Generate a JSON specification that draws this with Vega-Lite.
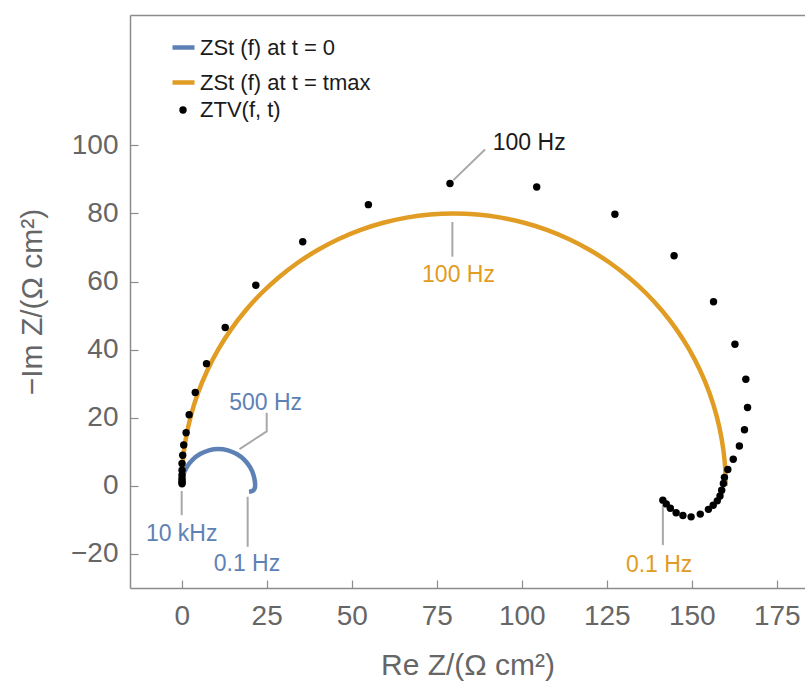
{
  "$schema": "https://vega.github.io/schema/vega-lite/v6.json",
  "width": 675,
  "height": 573,
  "autosize": {"type": "none"},
  "padding": {"left": 130, "top": 15, "right": 0, "bottom": 96},
  "background": "white",
  "config": {
    "view": {"stroke": null},
    "font": "Liberation Sans",
    "axis": {
      "grid": false,
      "domainColor": "#8c8c8c",
      "domainWidth": 1.5,
      "tickColor": "#8c8c8c",
      "tickWidth": 1.2,
      "tickSize": -8,
      "labelFontSize": 28,
      "labelColor": "#666666",
      "labelFont": "Liberation Sans",
      "titleFont": "Liberation Sans",
      "titleFontSize": 30,
      "titleColor": "#666666",
      "titleFontWeight": "normal"
    }
  },
  "datasets": {
    "zst": [
      {"s": "ZSt (f) at t = 0", "i": 1, "re": 0.1, "im": 0.1},
      {"s": "ZSt (f) at t = 0", "i": 2, "re": 0.37, "im": 2.8},
      {"s": "ZSt (f) at t = 0", "i": 3, "re": 1.45, "im": 5.4},
      {"s": "ZSt (f) at t = 0", "i": 4, "re": 3.16, "im": 7.64},
      {"s": "ZSt (f) at t = 0", "i": 5, "re": 5.4, "im": 9.35},
      {"s": "ZSt (f) at t = 0", "i": 6, "re": 8.0, "im": 10.43},
      {"s": "ZSt (f) at t = 0", "i": 7, "re": 10.8, "im": 10.8},
      {"s": "ZSt (f) at t = 0", "i": 8, "re": 13.6, "im": 10.43},
      {"s": "ZSt (f) at t = 0", "i": 9, "re": 16.2, "im": 9.35},
      {"s": "ZSt (f) at t = 0", "i": 10, "re": 18.44, "im": 7.64},
      {"s": "ZSt (f) at t = 0", "i": 11, "re": 20.15, "im": 5.4},
      {"s": "ZSt (f) at t = 0", "i": 12, "re": 21.23, "im": 2.8},
      {"s": "ZSt (f) at t = 0", "i": 13, "re": 21.6, "im": 0},
      {"s": "ZSt (f) at t = 0", "i": 14, "re": 21.4, "im": -0.9},
      {"s": "ZSt (f) at t = 0", "i": 15, "re": 20.8, "im": -1.5},
      {"s": "ZSt (f) at t = 0", "i": 16, "re": 19.8, "im": -1.7},
      {"s": "ZSt (f) at t = tmax", "i": 1, "re": 0, "im": 0},
      {"s": "ZSt (f) at t = tmax", "i": 2, "re": 0.3, "im": 6.97},
      {"s": "ZSt (f) at t = tmax", "i": 3, "re": 1.22, "im": 13.89},
      {"s": "ZSt (f) at t = tmax", "i": 4, "re": 2.73, "im": 20.71},
      {"s": "ZSt (f) at t = tmax", "i": 5, "re": 4.82, "im": 27.36},
      {"s": "ZSt (f) at t = tmax", "i": 6, "re": 7.5, "im": 33.81},
      {"s": "ZSt (f) at t = tmax", "i": 7, "re": 10.72, "im": 40.0},
      {"s": "ZSt (f) at t = tmax", "i": 8, "re": 14.47, "im": 45.89},
      {"s": "ZSt (f) at t = tmax", "i": 9, "re": 18.72, "im": 51.42},
      {"s": "ZSt (f) at t = tmax", "i": 10, "re": 23.43, "im": 56.57},
      {"s": "ZSt (f) at t = tmax", "i": 11, "re": 28.58, "im": 61.28},
      {"s": "ZSt (f) at t = tmax", "i": 12, "re": 34.11, "im": 65.53},
      {"s": "ZSt (f) at t = tmax", "i": 13, "re": 40.0, "im": 69.28},
      {"s": "ZSt (f) at t = tmax", "i": 14, "re": 46.19, "im": 72.5},
      {"s": "ZSt (f) at t = tmax", "i": 15, "re": 52.64, "im": 75.18},
      {"s": "ZSt (f) at t = tmax", "i": 16, "re": 59.29, "im": 77.27},
      {"s": "ZSt (f) at t = tmax", "i": 17, "re": 66.11, "im": 78.78},
      {"s": "ZSt (f) at t = tmax", "i": 18, "re": 73.03, "im": 79.7},
      {"s": "ZSt (f) at t = tmax", "i": 19, "re": 80.0, "im": 80.0},
      {"s": "ZSt (f) at t = tmax", "i": 20, "re": 86.97, "im": 79.7},
      {"s": "ZSt (f) at t = tmax", "i": 21, "re": 93.89, "im": 78.78},
      {"s": "ZSt (f) at t = tmax", "i": 22, "re": 100.71, "im": 77.27},
      {"s": "ZSt (f) at t = tmax", "i": 23, "re": 107.36, "im": 75.18},
      {"s": "ZSt (f) at t = tmax", "i": 24, "re": 113.81, "im": 72.5},
      {"s": "ZSt (f) at t = tmax", "i": 25, "re": 120.0, "im": 69.28},
      {"s": "ZSt (f) at t = tmax", "i": 26, "re": 125.89, "im": 65.53},
      {"s": "ZSt (f) at t = tmax", "i": 27, "re": 131.42, "im": 61.28},
      {"s": "ZSt (f) at t = tmax", "i": 28, "re": 136.57, "im": 56.57},
      {"s": "ZSt (f) at t = tmax", "i": 29, "re": 141.28, "im": 51.42},
      {"s": "ZSt (f) at t = tmax", "i": 30, "re": 145.53, "im": 45.89},
      {"s": "ZSt (f) at t = tmax", "i": 31, "re": 149.28, "im": 40.0},
      {"s": "ZSt (f) at t = tmax", "i": 32, "re": 152.5, "im": 33.81},
      {"s": "ZSt (f) at t = tmax", "i": 33, "re": 155.18, "im": 27.36},
      {"s": "ZSt (f) at t = tmax", "i": 34, "re": 157.27, "im": 20.71},
      {"s": "ZSt (f) at t = tmax", "i": 35, "re": 158.78, "im": 13.89},
      {"s": "ZSt (f) at t = tmax", "i": 36, "re": 159.7, "im": 6.97},
      {"s": "ZSt (f) at t = tmax", "i": 37, "re": 160.0, "im": 0}
    ],
    "ztv": [
      {"s": "ZTV(f, t)", "re": 0.1, "im": 0.6},
      {"s": "ZTV(f, t)", "re": 0.1, "im": 1.0},
      {"s": "ZTV(f, t)", "re": 0.1, "im": 1.5},
      {"s": "ZTV(f, t)", "re": 0.1, "im": 2.2},
      {"s": "ZTV(f, t)", "re": 0.1, "im": 3.2},
      {"s": "ZTV(f, t)", "re": 0.1, "im": 4.6},
      {"s": "ZTV(f, t)", "re": 0.1, "im": 6.6},
      {"s": "ZTV(f, t)", "re": 0.3, "im": 9.0},
      {"s": "ZTV(f, t)", "re": 0.6, "im": 12.0},
      {"s": "ZTV(f, t)", "re": 1.3, "im": 15.6},
      {"s": "ZTV(f, t)", "re": 2.2, "im": 20.9},
      {"s": "ZTV(f, t)", "re": 4.0, "im": 27.4},
      {"s": "ZTV(f, t)", "re": 7.3, "im": 35.9},
      {"s": "ZTV(f, t)", "re": 12.8, "im": 46.5},
      {"s": "ZTV(f, t)", "re": 21.8, "im": 58.9},
      {"s": "ZTV(f, t)", "re": 35.6, "im": 71.7},
      {"s": "ZTV(f, t)", "re": 54.9, "im": 82.6},
      {"s": "ZTV(f, t)", "re": 78.9, "im": 88.8},
      {"s": "ZTV(f, t)", "re": 104.4, "im": 87.8},
      {"s": "ZTV(f, t)", "re": 127.4, "im": 79.8},
      {"s": "ZTV(f, t)", "re": 144.8, "im": 67.6},
      {"s": "ZTV(f, t)", "re": 156.4, "im": 54.1},
      {"s": "ZTV(f, t)", "re": 162.7, "im": 41.6},
      {"s": "ZTV(f, t)", "re": 165.9, "im": 31.3},
      {"s": "ZTV(f, t)", "re": 166.4, "im": 23.0},
      {"s": "ZTV(f, t)", "re": 165.5, "im": 16.5},
      {"s": "ZTV(f, t)", "re": 164.0, "im": 11.7},
      {"s": "ZTV(f, t)", "re": 162.2, "im": 7.8},
      {"s": "ZTV(f, t)", "re": 160.6, "im": 4.8},
      {"s": "ZTV(f, t)", "re": 159.6, "im": 2.5},
      {"s": "ZTV(f, t)", "re": 159.3, "im": 0.7},
      {"s": "ZTV(f, t)", "re": 158.8, "im": -1.3},
      {"s": "ZTV(f, t)", "re": 158.3, "im": -3.0},
      {"s": "ZTV(f, t)", "re": 157.5, "im": -4.4},
      {"s": "ZTV(f, t)", "re": 156.3, "im": -5.7},
      {"s": "ZTV(f, t)", "re": 154.9, "im": -6.9},
      {"s": "ZTV(f, t)", "re": 152.5, "im": -8.3},
      {"s": "ZTV(f, t)", "re": 149.8, "im": -9.1},
      {"s": "ZTV(f, t)", "re": 147.4, "im": -8.7},
      {"s": "ZTV(f, t)", "re": 145.4, "im": -7.9},
      {"s": "ZTV(f, t)", "re": 143.7, "im": -6.6},
      {"s": "ZTV(f, t)", "re": 142.5, "im": -5.3},
      {"s": "ZTV(f, t)", "re": 141.5, "im": -4.2}
    ],
    "leaders": [
      {"id": "10k", "i": 1, "re": 0, "im": -1.5},
      {"id": "10k", "i": 2, "re": 0, "im": -8.6},
      {"id": "b01", "i": 1, "re": 19.4, "im": -3.2},
      {"id": "b01", "i": 2, "re": 19.4, "im": -17.9},
      {"id": "500", "i": 1, "re": 25.0, "im": 21.5},
      {"id": "500", "i": 2, "re": 25.0, "im": 16.0},
      {"id": "500", "i": 3, "re": 17.0, "im": 10.8},
      {"id": "o100", "i": 1, "re": 79.6, "im": 77.5},
      {"id": "o100", "i": 2, "re": 79.6, "im": 67.3},
      {"id": "k100", "i": 1, "re": 79.9, "im": 89.8},
      {"id": "k100", "i": 2, "re": 89.2, "im": 98.8},
      {"id": "o01", "i": 1, "re": 141.5, "im": -5.7},
      {"id": "o01", "i": 2, "re": 141.5, "im": -17.4}
    ],
    "labels": [
      {"s": "ZSt (f) at t = 0", "t": "10 kHz", "re": 0, "im": -14.0},
      {"s": "ZSt (f) at t = 0", "t": "0.1 Hz", "re": 19.2, "im": -23.0},
      {"s": "ZSt (f) at t = 0", "t": "500 Hz", "re": 24.7, "im": 24.4},
      {"s": "ZSt (f) at t = tmax", "t": "100 Hz", "re": 81.4, "im": 61.9},
      {"s": "ZSt (f) at t = tmax", "t": "0.1 Hz", "re": 140.4, "im": -23.3},
      {"s": "ZTV(f, t)", "t": "100 Hz", "re": 102.2, "im": 100.7}
    ]
  },
  "resolve": {"axis": {"x": "independent", "y": "independent"}},
  "layer": [
    {
      "mark": {"type": "rule", "color": "#b4b4b4", "strokeWidth": 1},
      "encoding": {
        "y": {"datum": 0, "type": "quantitative", "scale": {"domain": [-30, 138.3], "nice": false, "zero": false}, "axis": null}
      }
    },
    {
      "data": {"name": "zst"},
      "mark": {"type": "line", "strokeWidth": 4.5, "interpolate": "catmull-rom", "clip": true},
      "encoding": {
        "x": {"field": "re", "type": "quantitative", "scale": {"domain": [-15.2, 183.3], "nice": false, "zero": false},
              "axis": {"orient": "top", "labels": false, "ticks": false, "title": null, "domainColor": "#8c8c8c", "domainWidth": 1.5}},
        "y": {"field": "im", "type": "quantitative", "scale": {"domain": [-30, 138.3], "nice": false, "zero": false}, "axis": null},
        "order": {"field": "i", "type": "quantitative"},
        "color": {
          "field": "s", "type": "nominal",
          "scale": {"domain": ["ZSt (f) at t = 0", "ZSt (f) at t = tmax"], "range": ["#5e81b5", "#e19c24"]},
          "legend": {
            "orient": "none", "legendX": 40, "legendY": 19, "title": null,
            "symbolType": "stroke", "symbolStrokeWidth": 4.5, "symbolSize": 484,
            "labelFontSize": 22, "labelFont": "Liberation Sans", "labelColor": "#1a1a1a", "labelLimit": 0,
            "labelOffset": 3, "rowPadding": 10, "padding": 0
          }
        }
      }
    },
    {
      "data": {"name": "leaders"},
      "mark": {"type": "line", "color": "#a8a8a8", "strokeWidth": 2},
      "encoding": {
        "x": {"field": "re", "type": "quantitative", "scale": {"domain": [-15.2, 183.3], "nice": false, "zero": false}, "axis": null},
        "y": {"field": "im", "type": "quantitative", "scale": {"domain": [-30, 138.3], "nice": false, "zero": false}, "axis": null},
        "detail": {"field": "id", "type": "nominal"},
        "order": {"field": "i", "type": "quantitative"}
      }
    },
    {
      "data": {"name": "ztv"},
      "mark": {"type": "point", "filled": true, "size": 55, "color": "#000000", "opacity": 1},
      "encoding": {
        "x": {"field": "re", "type": "quantitative", "scale": {"domain": [-15.2, 183.3], "nice": false, "zero": false},
              "axis": {"orient": "bottom", "values": [0, 25, 50, 75, 100, 125, 150, 175], "labelPadding": 22, "titlePadding": 20, "title": "Re Z/(Ω cm²)"}},
        "y": {"field": "im", "type": "quantitative", "scale": {"domain": [-30, 138.3], "nice": false, "zero": false},
              "axis": {"orient": "left", "values": [-20, 0, 20, 40, 60, 80, 100], "labelPadding": 20, "titlePadding": 23, "title": "−Im Z/(Ω cm²)"}},
        "shape": {
          "field": "s", "type": "nominal",
          "scale": {"domain": ["ZTV(f, t)"], "range": ["circle"]},
          "legend": {
            "orient": "none", "legendX": 42, "legendY": 84, "title": null,
            "symbolFillColor": "#000000", "symbolStrokeColor": "#000000", "symbolSize": 55,
            "labelFontSize": 22, "labelFont": "Liberation Sans", "labelColor": "#1a1a1a", "labelLimit": 0,
            "labelOffset": 6, "padding": 0
          }
        }
      }
    },
    {
      "data": {"name": "labels"},
      "mark": {"type": "text", "fontSize": 23, "font": "Liberation Sans", "align": "center", "baseline": "middle"},
      "encoding": {
        "x": {"field": "re", "type": "quantitative", "scale": {"domain": [-15.2, 183.3], "nice": false, "zero": false}, "axis": null},
        "y": {"field": "im", "type": "quantitative", "scale": {"domain": [-30, 138.3], "nice": false, "zero": false}, "axis": null},
        "text": {"field": "t", "type": "nominal"},
        "fill": {
          "field": "s", "type": "nominal",
          "scale": {"domain": ["ZSt (f) at t = 0", "ZSt (f) at t = tmax", "ZTV(f, t)"], "range": ["#5e81b5", "#e19c24", "#1a1a1a"]},
          "legend": null
        }
      }
    }
  ]
}
